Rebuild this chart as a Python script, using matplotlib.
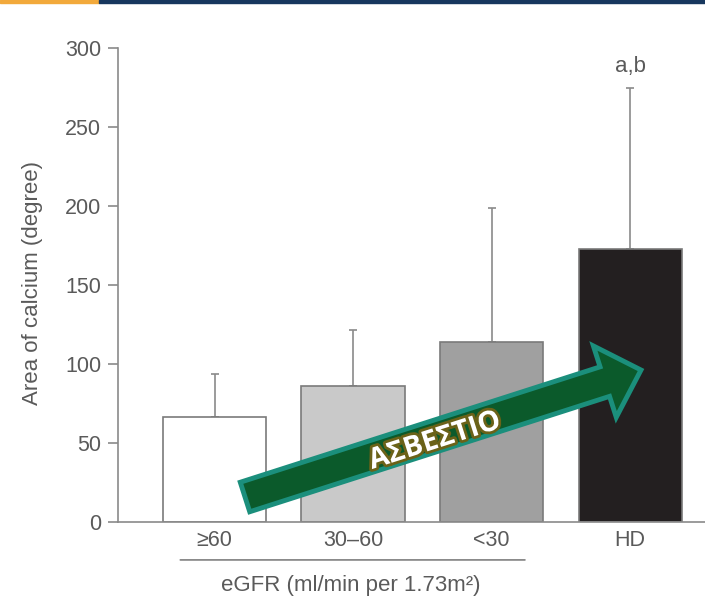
import math

import matplotlib
matplotlib.use("Agg")
import matplotlib.pyplot as plt
import matplotlib.patheffects as pe
from matplotlib.patches import FancyArrow, Rectangle
from matplotlib.transforms import IdentityTransform

plt.rcParams['font.family'] = ['Liberation Sans', 'DejaVu Sans']

groups = ['\u226560', '30\u201360', '<30', 'HD']
means = [66.5, 86, 114, 173]
sd_upper = [27, 35.5, 85, 102]
bar_colors = ['#ffffff', '#c9c9c9', '#a0a0a0', '#231f20']
yticks = [0, 50, 100, 150, 200, 250, 300]

W, H = 705, 597
TXT = '#5a5a5a'
fig = plt.figure(figsize=(W / 100, H / 100), dpi=100)
ax = fig.add_axes([118 / W, 1 - 522 / H, 587 / W, 474 / H])

x = list(range(len(groups)))
ax.bar(x, means, width=0.745, color=bar_colors, edgecolor='#7a7a7a', linewidth=1.2, zorder=2)
ax.errorbar(x, means, yerr=[[0] * len(means), sd_upper], fmt='none',
            ecolor='#8a8a8a', elinewidth=1.2, capsize=3, capthick=1.2, zorder=1)

ax.set_xlim(-0.697, 3.54)
ax.set_ylim(0, 300)
ax.set_yticks(yticks)
ax.set_xticks(x)
ax.set_xticklabels(groups, fontsize=15.5, color=TXT)
ax.tick_params(axis='x', length=0, pad=6)
ax.tick_params(axis='y', length=7, width=1.2, color='#8a8a8a', labelsize=15.5,
               labelcolor=TXT, pad=5)
for s in ['top', 'right']:
    ax.spines[s].set_visible(False)
for s in ['left', 'bottom']:
    ax.spines[s].set_color('#8a8a8a')
    ax.spines[s].set_linewidth(1.2)
ax.set_ylabel('Area of calcium (degree)', fontsize=16, color=TXT)
ax.yaxis.set_label_coords(-0.128, 0.505)

ax.text(3, 288, 'a,b', ha='center', va='center', fontsize=16, color=TXT)

# bracket under the eGFR groups
ax.annotate('', xy=(-0.267, -0.08), xytext=(2.26, -0.08),
            xycoords=('data', 'axes fraction'), textcoords=('data', 'axes fraction'),
            arrowprops=dict(arrowstyle='-', color='#8a8a8a', lw=1.3))
ax.text(0.98, -0.133, 'eGFR (ml/min per 1.73m\u00b2)', transform=ax.get_xaxis_transform(),
        ha='center', va='center', fontsize=16, color=TXT)

# overlay arrow (pixel coords, y up)
x0, y0 = 245, H - 497
x1, y1 = 641, H - 370
arr = FancyArrow(x0, y0, x1 - x0, y1 - y0, width=31, head_width=75, head_length=38,
                 length_includes_head=True, transform=IdentityTransform(),
                 facecolor='#0b5a2b', edgecolor='#1b8f7c', linewidth=3.5, zorder=5)
fig.add_artist(arr)
ang = math.degrees(math.atan2(y1 - y0, x1 - x0))
fig.text(435 / W, 1 - 441 / H, '\u0391\u03a3\u0392\u0395\u03a3\u03a4\u0399\u039f',
         rotation=ang, rotation_mode='anchor', ha='center', va='center',
         fontsize=20.5, fontweight='bold', family=['Open Sans', 'DejaVu Sans'],
         color='white', zorder=6,
         path_effects=[pe.withStroke(linewidth=4, foreground='#6b6218')])

# top banner strip
fig.add_artist(Rectangle((0, 1 - 3 / H), 99 / W, 3 / H, transform=fig.transFigure,
                         color='#f2a93b', zorder=10))
fig.add_artist(Rectangle((99 / W, 1 - 3 / H), 1 - 99 / W, 3 / H, transform=fig.transFigure,
                         color='#17375e', zorder=10))

fig.savefig('out.png', dpi=100)
